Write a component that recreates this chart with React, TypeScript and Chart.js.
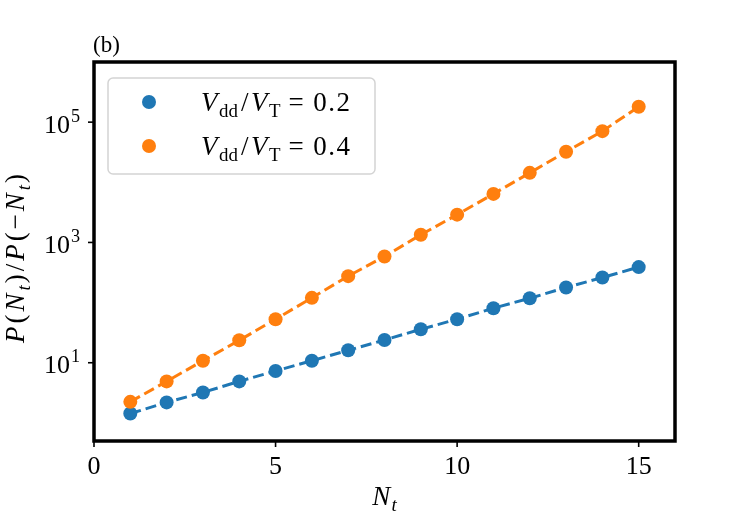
import { useEffect, useRef } from 'react';
import { Chart, registerables, type Plugin } from 'chart.js';

Chart.register(...registerables);

// N_t values and the measured ratio P(N_t)/P(-N_t)
const nValues = [1, 2, 3, 4, 5, 6, 7, 8, 9, 10, 11, 12, 13, 14, 15];
const ratioLow = [1.43, 2.19, 3.21, 4.9, 7.3, 10.8, 16.1, 23.9, 36, 52.9, 80.7, 118, 178, 261, 389];
const ratioHigh = [2.24, 4.9, 10.8, 23.6, 52.9, 120, 275, 584, 1343, 2897, 6412, 14350, 32140, 70800, 180700];
const xTicks = [0, 5, 10, 15];
const yTickExponents = [1, 3, 5];
const seriesLabels = ['0.2', '0.4'];

const BLUE = '#1f77b4';
const ORANGE = '#ff7f0e';
const FONT = '"Liberation Serif", "DejaVu Serif", serif';

type Seg = { t: string; s?: 'it' | 'sub' | 'subit' | 'sup'; pad?: number };

function segFont(seg: Seg, size: number) {
  if (seg.s === 'it') return `italic ${size}px ${FONT}`;
  if (seg.s === 'subit') return `italic ${size * 0.7}px ${FONT}`;
  if (seg.s === 'sub' || seg.s === 'sup') return `${size * 0.7}px ${FONT}`;
  return `${size}px ${FONT}`;
}

const isSmall = (seg: Seg) => seg.s === 'sub' || seg.s === 'subit' || seg.s === 'sup';

function setSeg(ctx: CanvasRenderingContext2D, seg: Seg, size: number, spacing: number) {
  ctx.font = segFont(seg, size);
  (ctx as any).letterSpacing = `${isSmall(seg) ? 0 : spacing}px`;
}

function mathWidth(ctx: CanvasRenderingContext2D, segs: Seg[], size: number, spacing: number) {
  let w = 0;
  for (const seg of segs) {
    setSeg(ctx, seg, size, spacing);
    w += ctx.measureText(seg.t).width + (seg.pad ?? 0);
  }
  return w;
}

// draws a small piece of math text, baseline at y
function drawMath(
  ctx: CanvasRenderingContext2D,
  segs: Seg[],
  x: number,
  y: number,
  size: number,
  align: 'left' | 'center' | 'right' = 'left',
  spacing = 0,
) {
  const w = mathWidth(ctx, segs, size, spacing);
  let cx = align === 'left' ? x : align === 'center' ? x - w / 2 : x - w;
  ctx.textAlign = 'left';
  ctx.textBaseline = 'alphabetic';
  for (const seg of segs) {
    setSeg(ctx, seg, size, spacing);
    let dy = 0;
    if (seg.s === 'sub' || seg.s === 'subit') dy = size * 0.22;
    if (seg.s === 'sup') dy = -size * 0.42;
    ctx.fillText(seg.t, cx, y + dy);
    cx += ctx.measureText(seg.t).width + (seg.pad ?? 0);
  }
  (ctx as any).letterSpacing = '0px';
}

const decorPlugin: Plugin<'scatter'> = {
  id: 'decor',
  afterDraw(chart) {
    const { ctx, chartArea } = chart;
    const xs = chart.scales.x;
    const ys = chart.scales.y;
    ctx.save();
    ctx.fillStyle = '#000';
    ctx.strokeStyle = '#000';

    // ticks
    ctx.lineWidth = 1.6;
    for (const v of xTicks) {
      const px = xs.getPixelForValue(v);
      ctx.beginPath();
      ctx.moveTo(px, chartArea.bottom);
      ctx.lineTo(px, chartArea.bottom + 6);
      ctx.stroke();
      drawMath(ctx, [{ t: String(v) }], px, chartArea.bottom + 33, 26, 'center');
    }
    for (const e of yTickExponents) {
      const py = ys.getPixelForValue(Math.pow(10, e));
      ctx.beginPath();
      ctx.moveTo(chartArea.left, py);
      ctx.lineTo(chartArea.left - 6, py);
      ctx.stroke();
      drawMath(ctx, [{ t: '10', pad: 1 }, { t: String(e), s: 'sup' }], chartArea.left - 14, py + 10.5, 26, 'right');
    }

    // frame
    ctx.lineWidth = 3.5;
    ctx.strokeRect(chartArea.left, chartArea.top, chartArea.right - chartArea.left, chartArea.bottom - chartArea.top);

    // axis titles
    drawMath(ctx, [{ t: 'N', s: 'it', pad: 1 }, { t: 't', s: 'subit' }], (chartArea.left + chartArea.right) / 2, 505, 27, 'center');
    ctx.save();
    ctx.translate(24, 257);
    ctx.rotate(-Math.PI / 2);
    drawMath(
      ctx,
      [
        { t: 'P', s: 'it' },
        { t: '(' },
        { t: 'N', s: 'it' },
        { t: 't', s: 'subit', pad: 2 },
        { t: ')/' },
        { t: 'P', s: 'it' },
        { t: '(−' },
        { t: 'N', s: 'it' },
        { t: 't', s: 'subit', pad: 2 },
        { t: ')' },
      ],
      0,
      0,
      27,
      'center',
      3,
    );
    ctx.restore();

    // panel label
    drawMath(ctx, [{ t: '(b)' }], chartArea.left - 1, 52, 23, 'left');

    // legend
    const lx = 108;
    const ly = 78;
    const lw = 267;
    const lh = 96;
    ctx.beginPath();
    ctx.roundRect(lx, ly, lw, lh, 5);
    ctx.fillStyle = 'rgba(255,255,255,0.85)';
    ctx.fill();
    ctx.strokeStyle = '#d4d4d4';
    ctx.lineWidth = 1.5;
    ctx.stroke();
    const colors = [BLUE, ORANGE];
    seriesLabels.forEach((lab, i) => {
      const cy = 102 + i * 44;
      ctx.beginPath();
      ctx.arc(149, cy, 7, 0, Math.PI * 2);
      ctx.fillStyle = colors[i];
      ctx.fill();
      ctx.fillStyle = '#000';
      drawMath(
        ctx,
        [
          { t: 'V', s: 'it' },
          { t: 'dd', s: 'sub', pad: 3 },
          { t: '/', pad: 1 },
          { t: 'V', s: 'it' },
          { t: 'T', s: 'sub', pad: 8 },
          { t: '=', pad: 8 },
          { t: lab },
        ],
        201,
        cy + 9,
        27,
        'left',
        1.5,
      );
    });
    ctx.restore();
  },
};

export default function App() {
  const chartRef = useRef<HTMLCanvasElement>(null);
  const chartInstance = useRef<Chart | null>(null);

  useEffect(() => {
    if (!chartRef.current) return;
    if (chartInstance.current) chartInstance.current.destroy();
    const ctx = chartRef.current.getContext('2d');
    if (!ctx) return;

    const mk = (vals: number[], color: string, order: number) => ({
      data: nValues.map((n, i) => ({ x: n, y: vals[i] })),
      showLine: true,
      borderColor: color,
      backgroundColor: color,
      borderWidth: 3,
      borderDash: [11, 5],
      pointRadius: 7,
      pointBorderWidth: 0,
      pointBackgroundColor: color,
      order,
    });

    chartInstance.current = new Chart(ctx, {
      type: 'scatter',
      data: {
        datasets: [mk(ratioLow, BLUE, 1), mk(ratioHigh, ORANGE, 0)],
      },
      options: {
        animation: false,
        responsive: true,
        maintainAspectRatio: false,
        layout: { padding: { top: 62, right: 75, left: 0, bottom: 0 } },
        plugins: { legend: { display: false }, tooltip: { enabled: false } },
        scales: {
          x: {
            type: 'linear',
            min: 0,
            max: 16,
            grid: { display: false },
            border: { display: false },
            ticks: { display: false },
            afterFit: (s) => {
              s.height = 84;
            },
          },
          y: {
            type: 'logarithmic',
            min: 0.5,
            max: 1e6,
            grid: { display: false },
            border: { display: false },
            ticks: { display: false },
            afterFit: (s) => {
              s.width = 94;
            },
          },
        },
      },
      plugins: [decorPlugin],
    });

    return () => {
      if (chartInstance.current) {
        chartInstance.current.destroy();
        chartInstance.current = null;
      }
    };
  }, []);

  return (
    <div style={{ position: 'fixed', left: 0, top: 0, width: 750, height: 525, background: '#fff' }}>
      <canvas ref={chartRef} />
    </div>
  );
}
